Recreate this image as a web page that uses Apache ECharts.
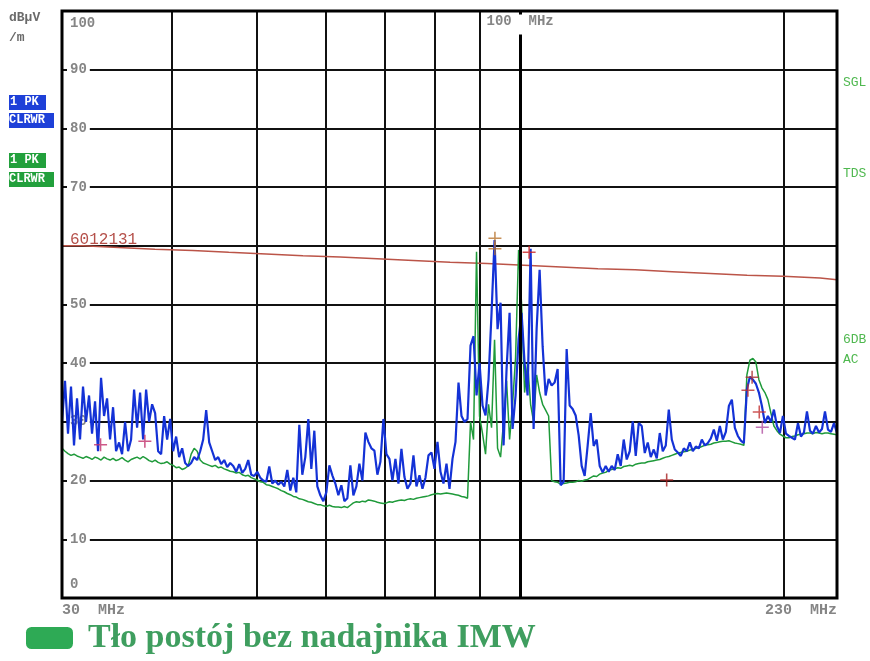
<!DOCTYPE html>
<html>
<head>
<meta charset="utf-8">
<script src="https://cdn.jsdelivr.net/npm/echarts@6/dist/echarts.min.js"></script>
<style>
html, body { margin: 0; padding: 0; background: #fff; }
#chart { width: 870px; height: 661px; }
</style>
</head>
<body>
<div id="chart"></div>
<script>
// Field strength scan 30–230 MHz, peak detector (dBµV/m)

// Sweep frequency span (MHz)
const spanStart = 30;
const spanStop = 230;

// Trace 1 (blue): peak hold with transmitter
const blueTrace = [
  30, 37, 28, 36, 26, 34, 27, 36, 30, 34.5,
  28, 33.5, 25, 37.5, 31, 34, 27, 32.5, 25, 26.5,
  24.5, 30, 25, 27, 35.5, 29, 35, 27, 35.5, 30,
  33, 31.5, 25, 24.5,
  31, 27, 30.5, 25, 27.5, 24, 25.5, 23, 22.5, 23,
  24, 23.5, 25, 27, 32, 26.5, 25, 23.5, 24, 22.8,
  23.5, 22.3, 23,
  22.5, 21.5, 22.8, 21.3, 22, 23.5, 21, 20.8, 21.5, 20.5,
  20, 19.8, 22.4, 19.5, 20, 19.3, 19.8, 19, 21.8, 18.3,
  20.5, 18, 29.5, 21, 24, 30.5, 22, 28.5, 19, 17.5,
  16.5, 18,
  22.6, 20.9, 19.5, 17.5, 19.2, 16.5, 17, 22.6, 17.5, 19,
  22.9, 20, 28.2, 26.6, 25.5, 25.1, 21, 23.2, 30.5, 24.5,
  23.7, 20, 23.7, 19.5, 25.4, 20.6, 18.6, 19.5, 24.3, 19,
  20.9, 18.6, 20.5, 24.3, 24.8, 22, 26.6, 21.5, 19.5, 22.9,
  18.6, 23.7, 26.6, 36.7, 31, 30, 30.5, 43, 44.6, 34.5,
  40, 32.8, 31.1, 37.3, 48.6, 61, 45.8, 50.3, 26, 39,
  48.6, 28.8, 34.5, 44.1, 48.6, 40, 34.5, 59.5, 28.8, 45.8,
  55.9, 42.9, 34.5, 37.3, 36.2, 36.7, 39, 19.2, 19.8, 42.4,
  32.8, 32.2, 31.1, 27.7,
  22.5, 20.8, 26, 31.5, 25.9, 27, 22.5, 21.4, 22.5, 21.5,
  22.5, 21.8, 24.5, 22.5, 27, 23.6, 25, 30.1, 24.2, 29.8,
  29.3, 24.7, 26.5, 24, 25.3, 23.8, 28.1, 25, 26, 32.1,
  27, 25.3, 24.8, 24.2, 25.5, 25, 26.5, 25, 25.8, 25.5,
  27, 26, 26.4, 27.2, 28.7, 26.8, 29.3, 27, 28.3, 32.7,
  33.8, 29, 27.6, 26.8, 26.4, 35.5, 37.7, 37.2, 36.5, 35,
  32.7, 29.8, 31, 30, 32.1, 29.3, 28.1, 31, 28, 27.6,
  27.3, 27, 29.8, 27.5, 28.2, 31.8, 28.5, 28, 29.3, 28.2,
  28.8, 31.8, 28.7, 28.3, 29.8, 28.1
];

// Trace 2 (green): background, transmitter off
const greenTrace = [
  25.5, 25, 24.6, 24.3, 24.5, 24.2, 24, 23.8, 24.1, 23.9,
  23.6, 24, 23.8, 23.5, 24, 23.7, 23.5, 23.8, 23.4, 23.6,
  23.9, 23.5, 23.2, 23.6, 23.8, 24, 23.7, 24.1, 23.8, 23.4,
  23.2, 23.5, 23.1, 22.9,
  23, 23.2, 22.8, 22.6, 22.2, 22.3, 21.9, 22.1, 22.5, 24.5,
  25.5, 25, 23.5, 23, 22.8, 22.6, 22.4, 22.6, 22.2, 22.3,
  22, 21.8, 21.6,
  21.5, 21.3, 21.4, 21.0, 20.8, 20.9, 20.5, 20.3, 20.1, 19.8,
  19.7, 19.3, 19.2, 19.0, 18.8, 18.6, 18.3, 18.1, 17.8, 17.6,
  17.3, 17.2, 16.9, 16.8, 16.6, 16.4, 16.3, 16.1, 15.9, 15.9,
  15.7, 15.6,
  15.8, 15.6, 15.5, 15.5, 15.4, 15.6, 15.4, 15.8, 16.2, 16.4,
  16.3, 16.5, 16.4, 16.7, 16.6, 16.5, 16.3, 16.2, 16.1, 16.2,
  16.4, 16.3, 16.5, 16.6, 16.7, 16.6, 16.8, 16.9, 16.8, 17.0,
  17.1, 17.2, 17.3, 17.4, 17.6, 17.7, 17.8, 17.7, 17.8, 17.9,
  17.8, 17.7, 17.6, 17.5, 17.3, 17.2, 17.0,
  30, 27, 59, 31, 28, 24.5, 33, 29, 44, 25.5,
  24, 30, 37, 27, 33, 41, 59.3, 50, 35, 40,
  33, 30, 38, 35, 33, 32, 31, 20, 19.8, 19.7,
  19.4, 19.5, 19.6, 19.7, 19.7, 19.8, 20.0,
  19.9, 20.1, 20.2, 20.5, 20.8, 20.7, 21.1, 21.3, 21.4, 21.8,
  21.9, 22.0, 22.2, 22.1, 22.4, 22.5, 22.6, 22.5, 22.8, 22.9,
  23.0, 23.0, 23.2, 23.3, 23.4, 23.5, 23.6, 23.8, 24.0, 24.1,
  24.3, 24.5, 24.7, 24.8, 24.9, 25.0, 25.2, 25.3, 25.5, 25.6,
  25.8, 26.0, 26.1, 26.2, 26.4, 26.5, 26.6, 26.7, 26.7, 26.8,
  26.6, 26.4, 26.3, 26.2, 26.0,
  38, 40.5, 40.8, 40.2, 37.2, 35.8, 35, 33.8, 31.5, 29.3,
  28.5, 27.9, 27.6, 27.3, 27.3, 27.5, 27.6, 27.8, 27.9, 28.0,
  28.1, 28.1, 28.0, 28.2, 28.1, 28.0, 28.1, 28.1, 28.0, 27.9, 27.8
];

// Limit line: stepped, start frequency of each step (MHz) and level (dBµV/m)
const limitFreq = [30, 31.7, 34.8, 38.3, 42.3, 46.5, 51.3, 56.5, 62.3, 68.7, 75.5,
  83.2, 91.7, 101.1, 111.4, 122.7, 135.3, 149.1, 164.8, 181.6, 199.6, 220, 230];
const limitLevel = [60.0, 59.7, 59.4, 59.2, 58.9, 58.6, 58.3, 58.1, 57.8, 57.5, 57.2,
  57.0, 56.7, 56.4, 56.1, 55.9, 55.6, 55.3, 55.0, 54.8, 54.5, 54.2, 54.2];

// Peak markers (MHz, dBµV/m)
const markerFreq = [33.2, 37.3, 93.6, 93.6, 102.4, 147, 182, 184, 187.5, 189];
const markerLevel = [26.1, 26.7, 61.3, 59.5, 58.9, 20.1, 35.4, 37.6, 31.7, 29.1];
const markerColor = ['#c0306a', '#c0306a', '#b8742e', '#b8742e', '#cc2222',
  '#a82020', '#b83030', '#a83030', '#c03030', '#b050a0'];

// Vertical grid frequencies (MHz) and the display marker
const gridFreqs = [40, 50, 60, 70, 80, 90, 200];
const markerLineFreq = 100;

// Y axis (dBµV/m)
const yMin = 0, yMax = 100, yStep = 10;
const limitLabelLevel = 60;
const limitLabelText = '6012131';

// Sweep points, spaced evenly on the log frequency scale
const sweepFreq = blueTrace.map((_, i) =>
  spanStart * Math.pow(spanStop / spanStart, i / (blueTrace.length - 1)));

const legendName = 'Tło postój bez nadajnika IMW';
const mono = 'Liberation Mono';
const gray = '#858585';

const chart = echarts.init(document.getElementById('chart'), null, { renderer: 'canvas' });

const plusSymbol = 'path://M0,4.4H10V5.6H0Z M4.4,0H5.6V10H4.4Z';

function labelStyle(extra) {
  return Object.assign({ fontFamily: mono, fontWeight: 'bold', fontSize: 14, color: gray }, extra);
}

chart.setOption({
  animation: false,
  backgroundColor: '#fff',
  grid: {
    left: 62, right: 33, top: 11, bottom: 63,
    show: true, borderColor: '#000', borderWidth: 3, backgroundColor: 'transparent', z: 10
  },
  legend: {
    left: 26, top: 621, padding: 0,
    icon: 'roundRect',
    itemWidth: 47, itemHeight: 22, itemGap: 10,
    selectedMode: false,
    data: [{ name: legendName, itemStyle: { color: '#2eaa55' } }],
    textStyle: {
      fontFamily: 'Liberation Serif', fontWeight: 'bold', fontSize: 34, color: '#3f9e5f',
      padding: [0, 0, 0, 10]
    }
  },
  xAxis: {
    type: 'log', logBase: 10, min: spanStart, max: spanStop,
    axisLine: { show: false },
    axisTick: { show: false },
    splitLine: { show: false },
    axisLabel: labelStyle({
      customValues: [spanStart, spanStop],
      alignMinLabel: 'left', alignMaxLabel: 'right',
      margin: 5, fontSize: 15,
      formatter: v => Math.round(v) + '  MHz'
    })
  },
  yAxis: {
    type: 'value', min: yMin, max: yMax, interval: yStep,
    axisLine: { show: false },
    axisTick: { show: false },
    splitLine: { show: true, lineStyle: { color: '#111', width: 2 } },
    axisLabel: {
      inside: true, margin: 5,
      verticalAlignMinLabel: 'bottom', verticalAlignMaxLabel: 'top',
      formatter: v => {
        if (v === limitLabelLevel) return '{lim|' + limitLabelText + '}';
        if (v === yMax) return '{t|' + v + '}';
        if (v === yMin) return '{b|' + v + '}';
        return '{n|' + v + '}';
      },
      rich: {
        n: labelStyle({ backgroundColor: '#fff', padding: [1, 3, 1, 3] }),
        t: labelStyle({ backgroundColor: '#fff', padding: [5, 3, 1, 3] }),
        b: labelStyle({ padding: [1, 3, 7, 3] }),
        lim: { fontFamily: mono, fontSize: 16, color: '#b5504a', padding: [0, 3, 12, 3] }
      }
    }
  },
  series: [
    {
      name: 'limit',
      type: 'line', step: 'end', symbol: 'none', silent: true, z: 2,
      lineStyle: { color: '#bb5448', width: 1.5 },
      data: limitFreq.map((f, i) => [f, limitLevel[i]]),
      markLine: {
        silent: true, symbol: ['none', 'none'], z: 1,
        label: { show: false },
        lineStyle: { color: '#111', width: 2, type: 'solid' },
        data: gridFreqs.map(f => ({ xAxis: f }))
      }
    },
    {
      name: legendName,
      type: 'line', symbol: 'none', silent: true, z: 3,
      itemStyle: { color: '#2eaa55' },
      lineStyle: { color: '#1f9a3a', width: 1.5 },
      data: sweepFreq.map((f, i) => [f, greenTrace[i]])
    },
    {
      name: 'peak',
      type: 'line', symbol: 'none', silent: true, z: 4,
      lineStyle: { color: '#1432d6', width: 2.2 },
      data: sweepFreq.map((f, i) => [f, blueTrace[i]])
    },
    {
      name: 'marker line',
      type: 'line', data: [], silent: true, z: 5,
      markLine: {
        silent: true, symbol: ['none', 'none'],
        lineStyle: { color: '#000', width: 3, type: 'solid' },
        data: [
          [{ coord: [markerLineFreq, yMin] },
           { coord: [markerLineFreq, 96],
             label: labelStyle({ show: true, position: 'end', distance: 6,
                      formatter: markerLineFreq + '  MHz' }) }],
          [{ coord: [markerLineFreq, 99.4] }, { coord: [markerLineFreq, yMax], label: { show: false } }]
        ]
      }
    },
    {
      name: 'markers',
      type: 'scatter', silent: true, z: 6,
      symbol: plusSymbol, symbolSize: 13,
      data: markerFreq.map((f, i) => ({
        value: [f, markerLevel[i]],
        itemStyle: { color: markerColor[i] }
      }))
    }
  ],
  graphic: [
    { type: 'text', left: 9, top: 11, style: { text: 'dBµV', font: 'bold 13px "Liberation Mono"', fill: '#6a6a6a' } },
    { type: 'text', left: 9, top: 31, style: { text: '/m', font: 'bold 13px "Liberation Mono"', fill: '#6a6a6a' } },
    { type: 'rect', shape: { x: 9, y: 95, width: 37, height: 15 }, style: { fill: '#1e40d8' } },
    { type: 'text', left: 10, top: 96, style: { text: '1 PK', font: 'bold 12px "Liberation Mono"', fill: '#fff' } },
    { type: 'rect', shape: { x: 9, y: 113, width: 45, height: 15 }, style: { fill: '#1e40d8' } },
    { type: 'text', left: 9, top: 114, style: { text: 'CLRWR', font: 'bold 12px "Liberation Mono"', fill: '#fff' } },
    { type: 'rect', shape: { x: 9, y: 153, width: 37, height: 15 }, style: { fill: '#22a03c' } },
    { type: 'text', left: 10, top: 154, style: { text: '1 PK', font: 'bold 12px "Liberation Mono"', fill: '#fff' } },
    { type: 'rect', shape: { x: 9, y: 172, width: 45, height: 15 }, style: { fill: '#22a03c' } },
    { type: 'text', left: 9, top: 173, style: { text: 'CLRWR', font: 'bold 12px "Liberation Mono"', fill: '#fff' } },
    { type: 'text', left: 843, top: 76, style: { text: 'SGL', font: '13px "Liberation Mono"', fill: '#4fb84f' } },
    { type: 'text', left: 843, top: 167, style: { text: 'TDS', font: '13px "Liberation Mono"', fill: '#4fb84f' } },
    { type: 'text', left: 843, top: 333, style: { text: '6DB', font: '13px "Liberation Mono"', fill: '#4fb84f' } },
    { type: 'text', left: 843, top: 353, style: { text: 'AC', font: '13px "Liberation Mono"', fill: '#4fb84f' } }
  ]
});
</script>
</body>
</html>
